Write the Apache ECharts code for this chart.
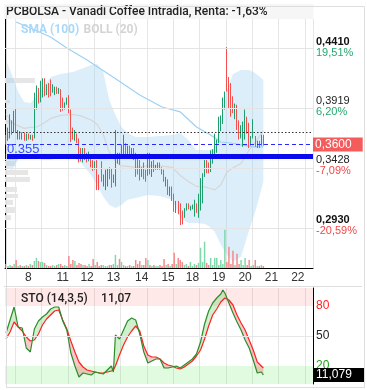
<!DOCTYPE html>
<html><head><meta charset="utf-8">
<script src="https://cdn.jsdelivr.net/npm/echarts@6/dist/echarts.min.js"></script>
<style>html,body{margin:0;padding:0;background:#fff}#c{width:367px;height:390px}</style>
</head><body><div id="c"></div>
<script>
const titleText = 'PCBOLSA - Vanadi Coffee Intradia, Renta: -1,63%';
const slotCount = 152;
const dayLabels = ['8','11','12','13','14','15','18','19','20','21','22'];
const dayLabelSlots = [11,28,40,53,67,80,92,105,118,131,144];
const dayStartSlots = [5,18,31,44,57,70,83,96,109,122,135,148];

// [open, close, low, high]
const candles = [
[.362,.366,.360,.368],[.364,.372,.363,.374],[.366,.380,.365,.385],[.378,.370,.368,.380],[.372,.384,.370,.388],
[.388,.372,.370,.390],[.366,.370,.364,.372],[.370,.366,.364,.371],[.365,.369,.364,.370],[.369,.364,.363,.370],
[.364,.368,.363,.369],[.368,.365,.364,.369],[.365,.367,.364,.368],[.367,.364,.363,.368],[.366,.398,.365,.403],
[.392,.405,.389,.409],[.405,.396,.394,.407],[.396,.410,.395,.413],[.400,.412,.399,.415],[.413,.401,.400,.415],
[.402,.408,.401,.410],[.410,.400,.399,.411],[.412,.404,.400,.414],[.404,.408,.403,.410],[.403,.407,.401,.408],
[.407,.403,.402,.408],[.403,.406,.402,.407],[.405,.395,.387,.406],[.398,.390,.388,.399],[.390,.394,.389,.395],
[.394,.398,.393,.399],[.400,.388,.386,.401],[.388,.368,.362,.389],[.372,.366,.364,.374],[.364,.370,.363,.372],
[.368,.362,.361,.369],[.364,.350,.345,.365],[.356,.347,.346,.357],[.346,.356,.345,.357],[.356,.348,.347,.357],
[.352,.346,.345,.353],[.347,.353,.346,.354],[.350,.342,.341,.351],[.346,.340,.338,.347],[.340,.345,.339,.346],
[.344,.326,.322,.347],[.334,.323,.322,.335],[.340,.330,.329,.346],[.327,.334,.325,.335],[.330,.338,.322,.339],
[.326,.338,.325,.340],[.340,.332,.331,.341],[.338,.326,.324,.340],[.330,.334,.328,.335],[.327,.360,.325,.372],
[.346,.352,.344,.353],[.352,.344,.343,.353],[.350,.358,.349,.360],[.355,.368,.350,.368],[.360,.352,.351,.361],
[.352,.358,.350,.359],[.358,.350,.349,.359],[.350,.356,.349,.357],[.356,.348,.347,.357],[.350,.340,.333,.353],
[.348,.336,.335,.349],[.346,.332,.330,.347],[.334,.340,.333,.341],[.344,.332,.331,.345],[.338,.330,.329,.339],
[.335,.350,.334,.353],[.352,.336,.335,.353],[.334,.345,.333,.346],[.346,.338,.337,.347],[.340,.342,.339,.343],
[.340,.344,.339,.345],[.344,.340,.339,.345],[.340,.336,.335,.341],[.338,.330,.329,.339],[.326,.332,.325,.333],
[.330,.320,.318,.331],[.318,.324,.317,.325],[.324,.314,.313,.325],[.318,.306,.304,.319],[.304,.312,.303,.313],
[.312,.304,.302,.313],[.310,.298,.293,.311],[.304,.296,.2935,.305],[.300,.306,.299,.307],[.306,.308,.305,.311],
[.310,.307,.306,.311],[.306,.308,.305,.309],[.307,.309,.306,.310],[.302,.312,.300,.314],[.310,.304,.303,.311],
[.300,.318,.299,.319],[.306,.330,.305,.332],[.315,.334,.311,.336],[.334,.345,.333,.347],[.346,.338,.336,.347],
[.344,.337,.336,.345],[.338,.352,.337,.355],[.345,.355,.344,.356],[.352,.365,.351,.369],[.354,.362,.353,.364],
[.362,.380,.361,.383],[.372,.382,.371,.384],[.378,.392,.377,.399],[.390,.400,.389,.404],[.416,.405,.404,.441],
[.414,.392,.390,.416],[.405,.385,.383,.411],[.398,.388,.386,.400],[.382,.392,.381,.394],[.392,.376,.372,.393],
[.378,.366,.364,.380],[.366,.375,.365,.376],[.362,.378,.358,.379],[.370,.386,.364,.389],[.382,.370,.369,.383],
[.372,.358,.357,.378],[.360,.366,.359,.367],[.366,.380,.365,.381],[.366,.360,.358,.367],[.358,.362,.357,.363],
[.362,.358,.357,.363],[.360,.367,.359,.368],[.367,.360,.359,.368]
];
const volumes = [
12,6,9,6,12,24,6,9,6,6, 9,6,12,9,21,30,21,18,18,15, 9,6,6,9,6,9,12,12,6,9,
6,36,12,24,21,9,15,12,9,9, 6,12,6,27,9,18,6,9,9,6, 6,9,9,12,39,9,27,18,9,6,
6,9,6,6,24,12,21,9,9,30, 24,9,6,9,6,6,9,6,27,9, 12,6,12,45,12,30,24,18,9,12,
6,18,6,12,9,15,60,18,78,15, 9,30,9,30,30,9,24,12,114,18, 63,12,51,9,42,12,24,9,30,9,
24,6,9,24,6,6,9,6
];
const bollSlots = [0,3,6,9,12,15,18,22,27,33,37,42,45,48,51,54,57,60,64,70,76,82,86,90,94,98,100,103,106,109,112,116,120,123,127];
const bollUpper = [.4302,.4177,.4036,.3953,.3945,.3994,.4069,.4161,.4186,.4202,.4227,.4260,.4269,.4202,.3970,.3845,.3745,.3695,.3662,.3662,.3670,.3679,.3695,.3637,.3554,.3554,.3554,.3571,.3762,.4053,.4186,.4219,.4219,.4194,.4136];
const bollMid = [.3853,.3783,.3754,.3733,.3741,.3745,.3770,.3816,.3841,.3849,.3837,.3803,.3766,.3683,.3534,.3459,.3421,.3417,.3409,.3421,.3421,.3409,.3342,.3292,.3251,.3247,.3238,.3222,.3264,.3368,.3405,.3442,.3554,.3617,.3712];
const bollLower = [.3404,.3388,.3471,.3513,.3537,.3496,.3471,.3471,.3496,.3496,.3446,.3346,.3263,.3164,.3097,.3072,.3097,.3139,.3155,.3180,.3172,.3139,.2989,.2947,.2947,.2939,.2922,.2873,.2765,.2682,.2624,.2665,.2889,.3039,.3288];
const smaSlots = [5,13,22,30,40,55,66,77,86,94,101,106,111,116,122,127];
const smaValues = [.4618,.4560,.4493,.4402,.4302,.4136,.4011,.3911,.3870,.3745,.3679,.3620,.3612,.3596,.3579,.3579];
// volume-by-price: [high, low, volume]
const profile = [[.4152,.4110,9.7],[.3970,.3945,1.6],[.3803,.3770,2.3],[.3679,.3645,1.3],[.3503,.3471,3.9],[.3463,.3421,3.2],[.3388,.3346,7.5],[.3330,.3288,8.1],[.3247,.3205,3.9],[.3188,.3155,4.2],[.3139,.3097,2.6],[.3080,.3030,3.2],[.3012,.2970,1.9]];
const stoSlots = [0,2,4,6,8,10,12,14,16,18,20,22,24,26,28,30,32,34,36,38,40,42,44,46,48,50,52,53,54,56,58,60,62,64,66,68,70,72,74,76,78,80,82,84,86,88,90,92,94,96,98,100,102,104,106,107,108,110,112,114,116,118,120,122,124,126,127];
const stoK = [53,66,79,59,58,38,34,57,65,69,72,77,79,79,65,56,33,20,9,13,12,11,14,13,12,16,20,14,51,47,56,65,68,66,52,34,23,25,27,27,18,18,19,20,18,21,24,27,32,44,62,75,83,88,92,96,93,83,73,64,56,46,38,26,13,14,11];
const stoD = [47,54,64,59,55,49,45,46,52,61,67,71,75,76,66,57,45,34,24,19,16,15,14,13,13,14,15,16,20,31,41,49,55,60,55,40,31,29,29,27,23,21,20,18,17,19,22,25,30,36,47,60,71,77,84,86,88,86,81,71,63,56,46,36,24,20,18];
const priceTicks = [0.4410,0.3919,0.3428,0.2930];
const priceTickPct = ['19,51%','6,20%','-7,09%','-20,59%'];
const prevClose = 0.366, lastPrice = 0.36, supportLevel = 0.355, lastK = 11.079;
const stoTicks = [80,50,20];

const UP = '#1f9e6d', DOWN = '#f44f4f';
const slots = Array.from({length: slotCount}, (_, i) => String(i));
const chart = echarts.init(document.getElementById('c'), null, {renderer:'canvas'});
const splitFn = (i) => dayStartSlots.indexOf(i) >= 0;

const option = {
  animation: false,
  backgroundColor: '#fff',
  textStyle: {fontFamily: 'Roboto, "Liberation Sans", sans-serif'},
  title: [
    {text: titleText, left: 4, top: 4, padding: [2, 46, 1, 2], backgroundColor: 'rgba(246,246,246,0.95)',
     textStyle: {fontSize: 12, fontWeight: 500, color: '#222', fontFamily: 'Roboto'}},
    {text: '{s|SMA (100)} {b|BOLL (20)}', left: 21, top: 21, padding: 0,
     textStyle: {rich: {s: {color: '#a9d8f8', fontSize: 12, fontWeight: 'bold', fontFamily: 'Roboto'},
                        b: {color: '#d4d4d4', fontSize: 12, fontWeight: 'bold', fontFamily: 'Roboto'}}}},
    {text: '{a|STO (14,3,5)}   {a|11,07}', left: 21, top: 290, padding: 0,
     textStyle: {rich: {a: {color: '#222', fontSize: 12, fontWeight: 500, fontFamily: 'Roboto'}}}}
  ],
  graphic: [
    {type: 'rect', left: 4, top: 4, shape: {width: 358, height: 381}, style: {fill: 'none', stroke: '#dddddd', lineWidth: 1}, z: 100, silent: true},
    {type: 'line', shape: {x1: 4, y1: 286.5, x2: 362, y2: 286.5}, style: {stroke: '#dddddd', lineWidth: 1}, z: 100, silent: true}
  ],
  grid: [
    {left: 5, right: 54, top: 19, bottom: 122, outerBoundsMode: 'none'},
    {left: 5, right: 54, top: 288, bottom: 6, outerBoundsMode: 'none'}
  ],
  xAxis: [
    {type: 'category', gridIndex: 0, data: slots, boundaryGap: true,
     axisLine: {show: true, lineStyle: {color: '#000', width: 1}}, axisTick: {show: false},
     axisLabel: {interval: (i) => dayLabelSlots.indexOf(i) >= 0, formatter: (v, i) => dayLabels[dayLabelSlots.indexOf(i)] || '',
                 color: '#333', fontSize: 12, margin: 4, fontFamily: '"Liberation Sans", Roboto'},
     splitLine: {show: true, interval: splitFn, lineStyle: {color: '#e6e6e6', width: 1}}},
    {type: 'value', gridIndex: 0, min: 0, max: 100, show: false},
    {type: 'category', gridIndex: 1, data: slots, boundaryGap: true,
     axisLine: {show: false}, axisTick: {show: false}, axisLabel: {show: false},
     splitLine: {show: true, interval: splitFn, lineStyle: {color: '#e6e6e6', width: 1}}}
  ],
  yAxis: [
    {type: 'value', gridIndex: 0, position: 'right', min: 0.25725, max: 0.46428,
     axisLine: {show: true, lineStyle: {color: '#000', width: 1}}, axisTick: {show: false}, splitLine: {show: false},
     axisLabel: {customValues: priceTicks, margin: 3, lineHeight: 10,
       formatter: (v) => {
         let i = priceTicks.findIndex(t => Math.abs(t - v) < 1e-6);
         if (i < 0) return '';
         const ext = (i === 0 || i === priceTicks.length - 1);
         const pctStyle = priceTickPct[i].charAt(0) === '-' ? 'dn' : 'up';
         return '{' + (ext ? 'vb' : 'v') + '|' + priceTicks[i].toFixed(4).replace('.', ',') + '}\n{' + pctStyle + '|' + priceTickPct[i] + '}';
       },
       rich: {v: {color: '#222', fontSize: 11, lineHeight: 11, fontFamily: '"Liberation Sans"'},
              vb: {color: '#111', fontSize: 11, lineHeight: 11, fontWeight: 'bold', fontFamily: '"Liberation Sans"'},
              up: {color: '#25a86e', fontSize: 11, lineHeight: 11, fontFamily: '"Liberation Sans"'},
              dn: {color: '#f04848', fontSize: 11, lineHeight: 11, fontFamily: '"Liberation Sans"'}}}},
    {type: 'value', gridIndex: 0, min: 0, max: 740, show: false},
    {type: 'value', gridIndex: 1, position: 'right', min: 2, max: 98,
     axisLine: {show: true, lineStyle: {color: '#000', width: 1}}, axisTick: {show: false}, splitLine: {show: false},
     axisLabel: {customValues: stoTicks, margin: 3,
       formatter: (v) => '{' + (v >= 80 ? 'r' : (v <= 20 ? 'g' : 'k')) + '|' + v + '}',
       rich: {r: {color: '#ff1f1f', fontSize: 12, fontFamily: '"Liberation Sans"'},
              k: {color: '#222', fontSize: 12, fontFamily: '"Liberation Sans"'},
              g: {color: '#1ea01e', fontSize: 12, fontFamily: '"Liberation Sans"'}}}}
  ],
  series: [
    {type: 'custom', name: 'profile', xAxisIndex: 1, yAxisIndex: 0, z: 1, silent: true, clip: true,
     data: profile,
     renderItem: (params, api) => {
       const p0 = api.coord([0, api.value(0)]);
       const p1 = api.coord([api.value(2), api.value(1)]);
       return {type: 'rect', shape: {x: p0[0], y: p0[1], width: p1[0] - p0[0], height: p1[1] - p0[1]}, style: {fill: '#e6e6e6'}};
     },
     markLine: {symbol: 'none', silent: true, animation: false,
       data: priceTicks.map(v => ({yAxis: v, lineStyle: {color: '#e4e4e4', width: 1, type: 'solid'}, label: {show: false}}))}},
    {type: 'line', name: 'bollLower', xAxisIndex: 0, yAxisIndex: 0, stack: 'boll', symbol: 'none', silent: true, z: 1,
     data: bollSlots.map((s, i) => [s, bollLower[i]]), lineStyle: {width: 0, opacity: 0}},
    {type: 'line', name: 'bollBand', xAxisIndex: 0, yAxisIndex: 0, stack: 'boll', symbol: 'none', silent: true, z: 1,
     data: bollSlots.map((s, i) => [s, bollUpper[i] - bollLower[i]]), lineStyle: {width: 0, opacity: 0},
     areaStyle: {color: 'rgba(160,208,245,0.36)', opacity: 1}},
    {type: 'line', name: 'bollMid', xAxisIndex: 0, yAxisIndex: 0, symbol: 'none', silent: true, z: 2,
     data: bollSlots.map((s, i) => [s, bollMid[i]]), lineStyle: {color: '#d6d6d6', width: 1.2}},
    {type: 'line', name: 'sma', xAxisIndex: 0, yAxisIndex: 0, symbol: 'none', silent: true, z: 2,
     data: smaSlots.map((s, i) => [s, smaValues[i]]), lineStyle: {color: '#9dd1f6', width: 1.2}},
    {type: 'bar', name: 'vol', xAxisIndex: 0, yAxisIndex: 1, barWidth: 1.5, silent: true, z: 2,
     data: volumes.map((v, i) => ({value: v, itemStyle: {color: candles[i][1] >= candles[i][0] ? '#80d9ab' : '#f48a8a'}}))},
    {type: 'candlestick', name: 'price', xAxisIndex: 0, yAxisIndex: 0, barWidth: 0.9, z: 3,
     data: candles,
     itemStyle: {color: UP, color0: DOWN, borderColor: UP, borderColor0: DOWN, borderWidth: 1},
     markLine: {symbol: 'none', silent: true, animation: false,
       data: [
         {yAxis: prevClose, lineStyle: {color: '#333', width: 1, type: [1.5, 2]}, label: {show: false}},
         {yAxis: lastPrice, lineStyle: {color: '#2828ff', width: 1, type: [4, 3]},
          label: {show: true, position: 'end', formatter: '0,3600', color: '#fff', backgroundColor: '#f45c5c',
                  fontSize: 12, lineHeight: 14, padding: [0, 11, 0, 2], distance: 0, fontFamily: '"Liberation Sans"'}},
         {yAxis: supportLevel, lineStyle: {color: '#0a0aee', width: 5, type: 'solid'},
          label: {show: true, position: 'insideStartTop', formatter: '0.355', color: '#3a4cff', fontSize: 13,
                  distance: [2, 1], fontFamily: '"Liberation Sans"'}}
       ]}},
    {type: 'line', name: 'stoBands', xAxisIndex: 2, yAxisIndex: 2, data: [], z: 0, silent: true,
     markArea: {silent: true, data: [
       [{yAxis: 80, itemStyle: {color: 'rgba(245,100,100,0.15)'}}, {yAxis: 98}],
       [{yAxis: 2, itemStyle: {color: 'rgba(60,230,60,0.16)'}}, {yAxis: 20}]
     ]},
     markLine: {symbol: 'none', silent: true, data: [{yAxis: 50, lineStyle: {color: '#e6e6e6', width: 1, type: 'solid'}, label: {show: false}}]}},
    {type: 'custom', name: 'stoFill', xAxisIndex: 2, yAxisIndex: 2, z: 1, silent: true,
     data: stoSlots.slice(0, -1).map((s, i) => [s, stoK[i], stoD[i]]),
     renderItem: (params, api) => {
       const i = params.dataIndex;
       const a = api.coord([stoSlots[i], stoK[i]]), b = api.coord([stoSlots[i + 1], stoK[i + 1]]);
       const c = api.coord([stoSlots[i], stoD[i]]), d = api.coord([stoSlots[i + 1], stoD[i + 1]]);
       const d0 = stoK[i] - stoD[i], d1 = stoK[i + 1] - stoD[i + 1];
       const fill = (up) => up ? 'rgba(120,210,110,0.35)' : 'rgba(240,110,110,0.38)';
       const ch = [];
       if (d0 * d1 < 0) {
         const t = d0 / (d0 - d1);
         const m = [a[0] + t * (b[0] - a[0]), a[1] + t * (b[1] - a[1])];
         ch.push({type: 'polygon', shape: {points: [a, m, c]}, style: {fill: fill(d0 > 0)}});
         ch.push({type: 'polygon', shape: {points: [m, b, d]}, style: {fill: fill(d1 > 0)}});
       } else {
         ch.push({type: 'polygon', shape: {points: [a, b, d, c]}, style: {fill: fill(d0 + d1 > 0)}});
       }
       return {type: 'group', children: ch};
     }},
    {type: 'line', name: 'stoD', xAxisIndex: 2, yAxisIndex: 2, symbol: 'none', silent: true, z: 3,
     data: stoSlots.map((s, i) => [s, stoD[i]]), lineStyle: {color: '#ff2222', width: 1.2}},
    {type: 'line', name: 'stoK', xAxisIndex: 2, yAxisIndex: 2, symbol: 'none', silent: true, z: 4,
     data: stoSlots.map((s, i) => [s, stoK[i]]), lineStyle: {color: '#2c8c2c', width: 1.2},
     markLine: {symbol: 'none', silent: true, data: [
       {yAxis: lastK, lineStyle: {color: 'transparent', width: 1},
        label: {show: true, position: 'end', formatter: '11,079', color: '#fff', backgroundColor: '#000',
                fontSize: 12, lineHeight: 14, padding: [0, 13, 0, 3], distance: 0, fontFamily: '"Liberation Sans"'}}
     ]}}
  ]
};
chart.setOption(option);
</script>
</body></html>
